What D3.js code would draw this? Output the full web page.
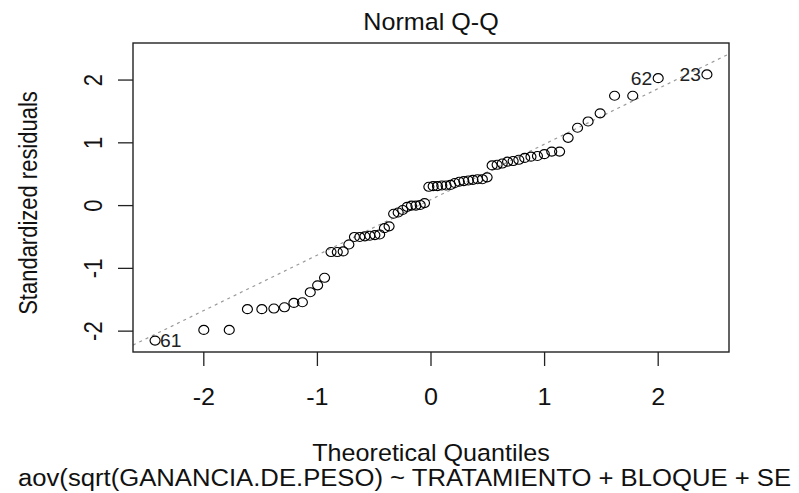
<!DOCTYPE html>
<html>
<head>
<meta charset="utf-8">
<script src="https://cdn.jsdelivr.net/npm/d3@7"></script>
<style>
  body { margin: 0; background: #fff; }
  svg { display: block; }
  text { font-family: "Liberation Sans", Arial, sans-serif; fill: #111; }
</style>
</head>
<body>
<svg id="chart" width="799" height="493"></svg>
<script>
// Theoretical normal quantiles for the 66 observations
const theoretical = [
  -2.429, -2.000, -1.776, -1.616, -1.489, -1.383, -1.290, -1.207, -1.132, -1.063,
  -0.998, -0.937, -0.880, -0.825, -0.773, -0.723, -0.674, -0.627, -0.582, -0.538,
  -0.494, -0.452, -0.410, -0.369, -0.329, -0.289, -0.249, -0.210, -0.172, -0.133,
  -0.095, -0.057, -0.019, 0.019, 0.057, 0.095, 0.133, 0.172, 0.210, 0.249,
  0.289, 0.329, 0.369, 0.410, 0.452, 0.494, 0.538, 0.582, 0.627, 0.674,
  0.723, 0.773, 0.825, 0.880, 0.937, 0.998, 1.063, 1.132, 1.207, 1.290,
  1.383, 1.489, 1.616, 1.776, 2.000, 2.429
];

// Sorted standardized residuals of the fitted model
const stdResiduals = [
  -2.15, -1.98, -1.98, -1.65, -1.65, -1.64, -1.62, -1.55, -1.54, -1.38,
  -1.27, -1.15, -0.74, -0.74, -0.73, -0.62, -0.50, -0.50, -0.49, -0.48,
  -0.47, -0.46, -0.36, -0.33, -0.13, -0.11, -0.07, -0.02, 0.00, 0.00,
  0.01, 0.04, 0.30, 0.31, 0.31, 0.32, 0.32, 0.33, 0.36, 0.38,
  0.39, 0.40, 0.41, 0.42, 0.42, 0.45, 0.64, 0.65, 0.67, 0.70,
  0.71, 0.73, 0.76, 0.78, 0.79, 0.82, 0.86, 0.86, 1.08, 1.24,
  1.34, 1.47, 1.75, 1.75, 2.03, 2.09
];

// Extreme points and their observation numbers
const flaggedIndex = [0, 64, 65];
const flaggedLabels = ["61", "62", "23"];

const xTicks = [-2, -1, 0, 1, 2];
const yTicks = [-2, -1, 0, 1, 2];

const titleText = "Normal Q-Q";
const xLabel = "Theoretical Quantiles";
const yLabel = "Standardized residuals";
const subCaption = "aov(sqrt(GANANCIA.DE.PESO) ~ TRATAMIENTO + BLOQUE + SE";

// ---- layout ----
const plot = { left: 133, right: 729, top: 43, bottom: 352 };
const hfs = 23.5, hsx = 1.07;   // horizontal lettering
const vfs = 22,   vsx = 1.15;   // rotated lettering

const svg = d3.select("#chart");

// x limits: data range padded by 4%
const xr = d3.extent(theoretical);
const xpad = 0.04 * (xr[1] - xr[0]);
const x = d3.scaleLinear()
  .domain([xr[0] - xpad, xr[1] + xpad])
  .range([plot.left, plot.right]);

// y limits: data range with headroom for labels, then padded by 4%
const yr = d3.extent(stdResiduals);
const yTop = yr[1] + 0.075 * (yr[1] - yr[0]);
const ypad = 0.04 * (yTop - yr[0]);
const y = d3.scaleLinear()
  .domain([yr[0] - ypad, yTop + ypad])
  .range([plot.bottom, plot.top]);

// reference line through the first and third quartiles
const q1 = d3.quantile(stdResiduals, 0.25);
const q3 = d3.quantile(stdResiduals, 0.75);
const z75 = 0.6744898;
const slope = (q3 - q1) / (2 * z75);
const intercept = q1 + slope * z75;

svg.append("defs").append("clipPath").attr("id", "plotClip")
  .append("rect")
  .attr("x", plot.left).attr("y", plot.top)
  .attr("width", plot.right - plot.left)
  .attr("height", plot.bottom - plot.top);

const [dx0, dx1] = x.domain();
svg.append("line")
  .attr("clip-path", "url(#plotClip)")
  .attr("x1", x(dx0)).attr("y1", y(intercept + slope * dx0))
  .attr("x2", x(dx1)).attr("y2", y(intercept + slope * dx1))
  .attr("stroke", "#9a9a9a")
  .attr("stroke-width", 1.2)
  .attr("stroke-dasharray", "3,4");

// points
svg.append("g")
  .selectAll("ellipse")
  .data(stdResiduals)
  .join("ellipse")
  .attr("cx", (d, i) => x(theoretical[i]))
  .attr("cy", d => y(d))
  .attr("rx", 5.0)
  .attr("ry", 4.5)
  .attr("fill", "none")
  .attr("stroke", "#000")
  .attr("stroke-width", 1.15);

// labels of extreme points
flaggedIndex.forEach((idx, k) => {
  const px = x(theoretical[idx]);
  const py = y(stdResiduals[idx]);
  const onLeft = theoretical[idx] > 0;
  const tx = onLeft ? px - 6 : px + 5;
  svg.append("text")
    .attr("transform", `translate(${tx},${py + 6.5}) scale(${hsx},1)`)
    .attr("text-anchor", onLeft ? "end" : "start")
    .attr("font-size", 18)
    .style("fill", "#222")
    .text(flaggedLabels[k]);
});

// frame
svg.append("rect")
  .attr("x", plot.left).attr("y", plot.top)
  .attr("width", plot.right - plot.left)
  .attr("height", plot.bottom - plot.top)
  .attr("fill", "none")
  .attr("stroke", "#222")
  .attr("stroke-width", 1.4);

// x axis ticks and labels
const xAxis = svg.append("g");
xAxis.selectAll("line")
  .data(xTicks)
  .join("line")
  .attr("x1", d => x(d)).attr("x2", d => x(d))
  .attr("y1", plot.bottom).attr("y2", plot.bottom + 14)
  .attr("stroke", "#222").attr("stroke-width", 1.3);
xAxis.selectAll("text")
  .data(xTicks)
  .join("text")
  .attr("transform", d => `translate(${x(d)},405) scale(${hsx},1)`)
  .attr("text-anchor", "middle")
  .attr("font-size", hfs)
  .text(d => d);

// y axis ticks and labels
const yAxis = svg.append("g");
yAxis.selectAll("line")
  .data(yTicks)
  .join("line")
  .attr("x1", plot.left - 15).attr("x2", plot.left)
  .attr("y1", d => y(d)).attr("y2", d => y(d))
  .attr("stroke", "#222").attr("stroke-width", 1.3);
yAxis.selectAll("text")
  .data(yTicks)
  .join("text")
  .attr("transform", d => `translate(102,${y(d)}) scale(${vsx},1) rotate(-90)`)
  .attr("text-anchor", "middle")
  .attr("font-size", vfs)
  .text(d => d);

// titles
svg.append("text")
  .attr("transform", `translate(${(plot.left + plot.right) / 2},30) scale(${hsx},1)`)
  .attr("text-anchor", "middle")
  .attr("font-size", hfs)
  .text(titleText);

svg.append("text")
  .attr("transform", `translate(${(plot.left + plot.right) / 2},461) scale(${hsx},1)`)
  .attr("text-anchor", "middle")
  .attr("font-size", hfs)
  .text(xLabel);

svg.append("text")
  .attr("transform", `translate(37,203) scale(${vsx},1) rotate(-90)`)
  .attr("text-anchor", "middle")
  .attr("font-size", vfs)
  .text(yLabel);

svg.append("text")
  .attr("x", 18)
  .attr("y", 486)
  .attr("font-size", hfs)
  .attr("textLength", 773)
  .attr("lengthAdjust", "spacingAndGlyphs")
  .text(subCaption);
</script>
</body>
</html>
